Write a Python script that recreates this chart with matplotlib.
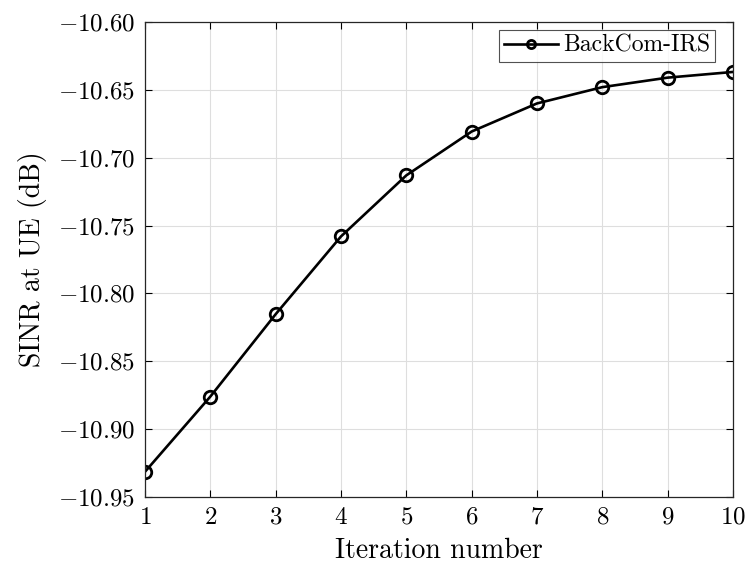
import matplotlib
matplotlib.use("Agg")
import matplotlib.pyplot as plt
import numpy as np

iterations = [1, 2, 3, 4, 5, 6, 7, 8, 9, 10]
sinr_db = [-10.9314, -10.876, -10.8153, -10.758, -10.713, -10.6807, -10.660, -10.648, -10.641, -10.6368]
yticks = [-10.95, -10.90, -10.85, -10.80, -10.75, -10.70, -10.65, -10.60]

plt.rcParams['font.family'] = 'cmr10'
plt.rcParams['mathtext.fontset'] = 'cm'
plt.rcParams['axes.formatter.use_mathtext'] = True

W, H = 748, 571
fig = plt.figure(figsize=(W/100, H/100), dpi=100)
L, R, T, B = 145, 733, 22, 497
ax = fig.add_axes([L/W, 1-B/H, (R-L)/W, (B-T)/H])

ax.plot(iterations, sinr_db, color='black', lw=1.9, marker='o', markersize=9,
        markerfacecolor='none', markeredgewidth=2, label='BackCom-IRS')

ax.set_xlim(1, 10)
ax.set_ylim(-10.95, -10.60)
ax.set_xticks(iterations)
ax.set_yticks(yticks)
ax.set_yticklabels([f"$-{abs(v):.2f}$" for v in yticks])
ax.set_xticklabels([f"${v}$" for v in iterations])
ax.grid(True, color='#dedede', lw=0.8)
ax.set_axisbelow(True)
ax.tick_params(direction='in', top=True, right=True, length=5, labelsize=18, width=0.8, pad=7)
for s in ax.spines.values():
    s.set_linewidth(0.9)
    s.set_color('#262626')
ax.set_xlabel('Iteration number', fontsize=20, labelpad=6)
ax.set_ylabel('SINR at UE (dB)', fontsize=20, labelpad=8)

leg = ax.legend(loc='upper right', fontsize=17, frameon=True, fancybox=False,
                edgecolor='#262626', borderaxespad=0, handlelength=2.3,
                handletextpad=0.2, borderpad=0.2, markerscale=0.65,
                bbox_to_anchor=(715/W, 1-30/H), bbox_transform=fig.transFigure)
leg.get_frame().set_linewidth(0.8)

fig.savefig('out.png', dpi=100)
